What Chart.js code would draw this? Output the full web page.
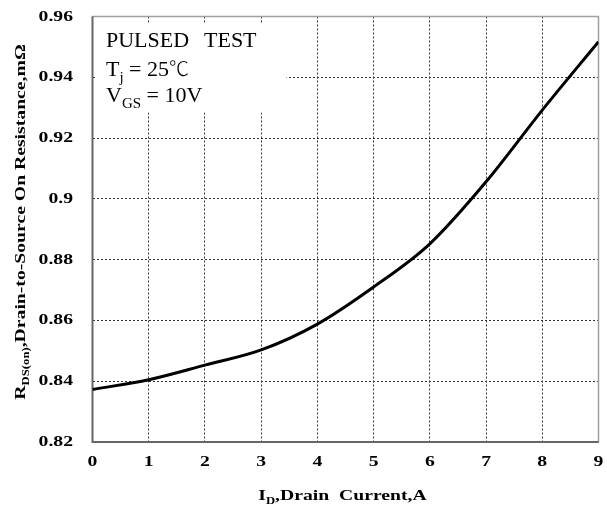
<!DOCTYPE html>
<html>
<head>
<meta charset="utf-8">
<script src="https://cdn.jsdelivr.net/npm/chart.js@4.4.1/dist/chart.umd.min.js"></script>
<style>
  html, body { margin: 0; padding: 0; background: #fff; }
  #wrap { width: 607px; height: 508px; }
</style>
</head>
<body>
<div id="wrap"><canvas id="rdson"></canvas></div>
<script>
// drain current (A) and on-resistance (mOhm)
const drainCurrent = [0, 1, 2, 3, 4, 5, 6, 7, 8, 9];
const rdsOn = [0.8373, 0.8405, 0.8453, 0.8503, 0.8588, 0.8710, 0.8852, 0.9056, 0.9292, 0.9517];

const xTickLabels = ['0', '1', '2', '3', '4', '5', '6', '7', '8', '9'];
const yTickLabels = ['0.82', '0.84', '0.86', '0.88', '0.9', '0.92', '0.94', '0.96'];

const SERIF = '"Liberation Serif", "Times New Roman", serif';
const CJK = '"Noto Sans CJK SC", "Liberation Serif", serif';
const WIDE = 1.27;   // axis text is drawn a bit wider than the font

// text runs (some subscripted) drawn at (x, y), stretched horizontally by sx
function drawRuns(ctx, runs, x, y, size, weight, sx, align) {
  const subSize = Math.round(size * 0.66);
  const fontOf = r => (r.weight || weight) + ' ' + (r.sub ? subSize : (r.size || size)) + 'px ' + (r.family || SERIF);
  let w = 0;
  runs.forEach(r => {
    ctx.font = fontOf(r);
    r.w = ctx.measureText(r.t).width;
    w += r.w;
  });
  ctx.save();
  ctx.translate(x, y);
  ctx.scale(sx, 1);
  let cx = align === 'center' ? -w / 2 : align === 'right' ? -w : 0;
  ctx.textAlign = 'left';
  runs.forEach(r => {
    ctx.font = fontOf(r);
    ctx.fillText(r.t, cx, r.sub ? size * 0.27 : 0);
    cx += r.w;
  });
  ctx.restore();
}

const framePlugin = {
  id: 'frame',
  beforeDatasetsDraw(chart) {
    const {ctx, chartArea: a} = chart;
    ctx.save();
    ctx.lineWidth = 1.5;
    ctx.strokeStyle = '#a0a0a0';
    ctx.beginPath();
    ctx.moveTo(a.left, a.top);
    ctx.lineTo(a.right, a.top);
    ctx.lineTo(a.right, a.bottom);
    ctx.stroke();
    ctx.lineWidth = 2;
    ctx.strokeStyle = '#666';
    ctx.beginPath();
    ctx.moveTo(a.left, a.top);
    ctx.lineTo(a.left, a.bottom);
    ctx.lineTo(a.right, a.bottom);
    ctx.stroke();
    ctx.restore();
  },
  afterDraw(chart) {
    const {ctx, chartArea: a, scales} = chart;
    ctx.save();

    // test conditions box
    ctx.fillStyle = '#fff';
    ctx.fillRect(a.left + 4, a.top + 7, 190, 89);
    ctx.fillStyle = '#000';
    ctx.textBaseline = 'alphabetic';
    drawRuns(ctx, [{t: 'PULSED'}], 106, 47, 22, 'normal', 1, 'left');
    drawRuns(ctx, [{t: 'TEST'}], 204, 47, 22, 'normal', 1, 'left');
    drawRuns(ctx, [{t: 'T'}, {t: 'j', sub: true}, {t: ' = 25'}, {t: '\u2103', family: CJK, size: 20, weight: 300}],
      106, 76, 22, 'normal', 1, 'left');
    drawRuns(ctx, [{t: 'V'}, {t: 'GS', sub: true}, {t: ' = 10V'}], 106, 102, 22, 'normal', 1, 'left');

    // tick labels
    ctx.textBaseline = 'middle';
    yTickLabels.forEach(lbl => {
      drawRuns(ctx, [{t: lbl}], 73, scales.y.getPixelForValue(Number(lbl)), 15.5, 'bold', WIDE, 'right');
    });
    xTickLabels.forEach(lbl => {
      drawRuns(ctx, [{t: lbl}], scales.x.getPixelForValue(Number(lbl)), 462, 15.5, 'bold', WIDE, 'center');
    });

    // axis titles
    ctx.textBaseline = 'alphabetic';
    const midX = (a.left + a.right) / 2;
    drawRuns(ctx, [{t: 'I'}, {t: 'D', sub: true}, {t: ',Drain  Current,A'}], midX - 3, 500, 15.5, 'bold', WIDE, 'center');
    ctx.translate(25, 222);
    ctx.rotate(-Math.PI / 2);
    drawRuns(ctx, [{t: 'R'}, {t: 'DS(on)', sub: true}, {t: ',Drain-to-Source On Resistance,m\u03A9'}], 0, 0, 15.5, 'bold', WIDE, 'center');
    ctx.restore();
  }
};

new Chart(document.getElementById('rdson'), {
  type: 'line',
  data: {
    datasets: [{
      data: drainCurrent.map((x, i) => ({x: x, y: rdsOn[i]})),
      borderColor: '#000',
      borderWidth: 3,
      pointRadius: 0,
      fill: false,
      cubicInterpolationMode: 'monotone'
    }]
  },
  options: {
    responsive: true,
    maintainAspectRatio: false,
    animation: false,
    layout: { padding: { top: 16.5, right: 8.5, left: 0, bottom: 0 } },
    plugins: { legend: { display: false }, tooltip: { enabled: false } },
    scales: {
      x: {
        type: 'linear',
        min: 0,
        max: 9,
        afterFit: s => { s.height = 66; },
        afterBuildTicks: s => { s.ticks = xTickLabels.map(v => ({value: Number(v)})); },
        ticks: { display: false },
        grid: { color: '#333', lineWidth: 1, drawTicks: false },
        border: { display: false, dash: [2, 2] }
      },
      y: {
        min: 0.82,
        max: 0.96,
        afterFit: s => { s.width = 92.5; },
        afterBuildTicks: s => { s.ticks = yTickLabels.map(v => ({value: Number(v)})); },
        ticks: { display: false },
        grid: { color: '#333', lineWidth: 1, drawTicks: false },
        border: { display: false, dash: [2, 2] }
      }
    }
  },
  plugins: [framePlugin]
});
</script>
</body>
</html>
